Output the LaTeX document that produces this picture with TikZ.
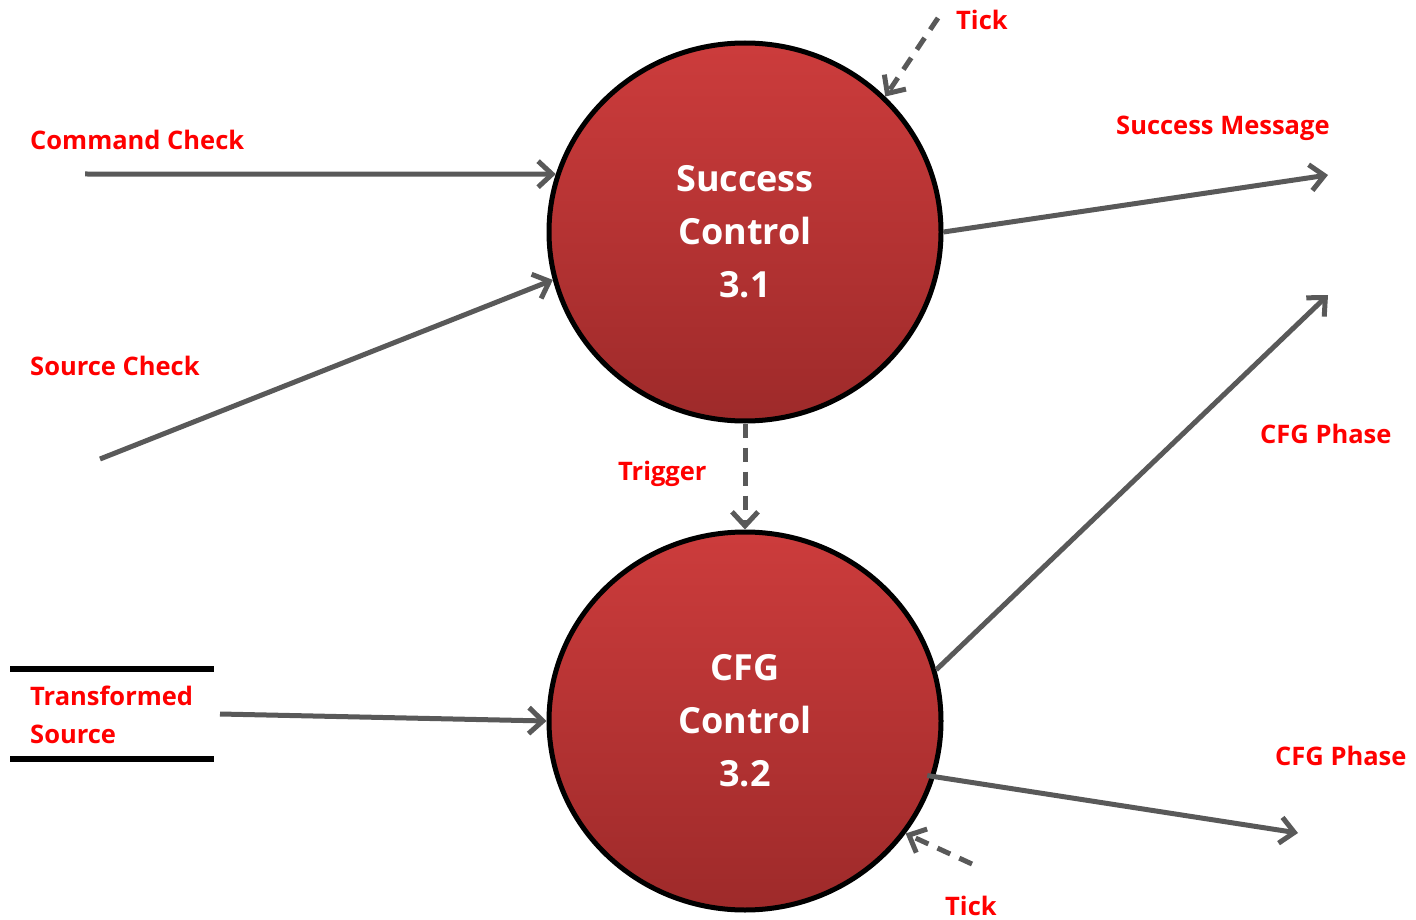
\documentclass[tikz,border=0pt]{standalone}
\usepackage{fontspec}
\setmainfont{Open Sans}
\usetikzlibrary{arrows.meta,shapes.geometric}
\definecolor{flowgray}{RGB}{89,89,89}
\definecolor{labelred}{RGB}{255,0,0}
\definecolor{bubbletop}{RGB}{204,60,60}
\definecolor{bubblebot}{RGB}{158,42,42}
\tikzset{
  process/.style={ellipse, draw=black, line width=5pt,
    minimum width=392pt, minimum height=378pt,
    inner sep=0pt, top color=bubbletop, bottom color=bubblebot,
    text=white, font=\bfseries\fontsize{36}{53}\selectfont, align=center},
  flow/.style={draw=flowgray, line width=5pt,
    -{Straight Barb[length=14pt,width=26pt,line width=5pt]}},
  ctrl/.style={flow, dash pattern=on 14pt off 10pt},
  lbl/.style={text=labelred, font=\bfseries\fontsize{25.5}{38}\selectfont,
    inner sep=0pt, anchor=base west, align=left},
  store/.style={draw=black, line width=5.5pt}
}
\begin{document}
\begin{tikzpicture}[x=1pt,y=-1pt]
  \useasboundingbox (0,0) rectangle (1416,920);

  % processes
  \node[process] (succ) at (745,232) {Success\\Control\\3.1};
  \node[process] (cfg)  at (745,721) {CFG\\Control\\3.2};

  % external ends of the flows
  \coordinate (cmdin) at (85,174);
  \coordinate (srcin) at (100,459);
  \coordinate (msgout) at (1328,175);
  \coordinate (tickA) at (938,18);
  \coordinate (tsin) at (220,714);
  \coordinate (phaseA) at (1328,295);
  \coordinate (phaseB) at (1298,833);
  \coordinate (tickB) at (972,864);

  % data store: Transformed Source
  \coordinate (stTL) at (10,669);
  \coordinate (stTR) at (214,669);
  \coordinate (stBL) at (10,759);
  \coordinate (stBR) at (214,759);
  \draw[store] (stTL) -- (stTR);
  \draw[store] (stBL) -- (stBR);

  % data flows
  \draw[flow] (cmdin) -- (succ.163);
  \draw[flow] (srcin) -- (succ.194);
  \draw[flow] (succ.0) -- (msgout);
  \draw[flow] (tsin) -- (cfg.180);
  \draw[flow] (cfg.15) -- (phaseA);
  \draw[flow] ([shift={(-8,0)}]cfg.-16) -- (phaseB);

  % control flows
  \draw[ctrl] (tickA) -- (succ.44);
  \draw[ctrl] (succ.south) -- (cfg.north);
  \draw[ctrl] (tickB) -- (cfg.-35);

  % labels
  \node[lbl] (lcmd) at (30,150) {Command Check};
  \node[lbl] (lsrc) at (30,375) {Source Check};
  \node[lbl] (ltickA) at (956,30) {Tick};
  \node[lbl] (lmsg) at (1116,135) {Success Message};
  \node[lbl] (ltrig) at (618,480) {Trigger};
  \node[lbl] (lphaseA) at (1260,443) {CFG Phase};
  \node[lbl] (lts) at (30,743) {Transformed\\Source};
  \node[lbl] (lphaseB) at (1275,765) {CFG Phase};
  \node[lbl] (ltickB) at (945,915) {Tick};
\end{tikzpicture}
\end{document}
